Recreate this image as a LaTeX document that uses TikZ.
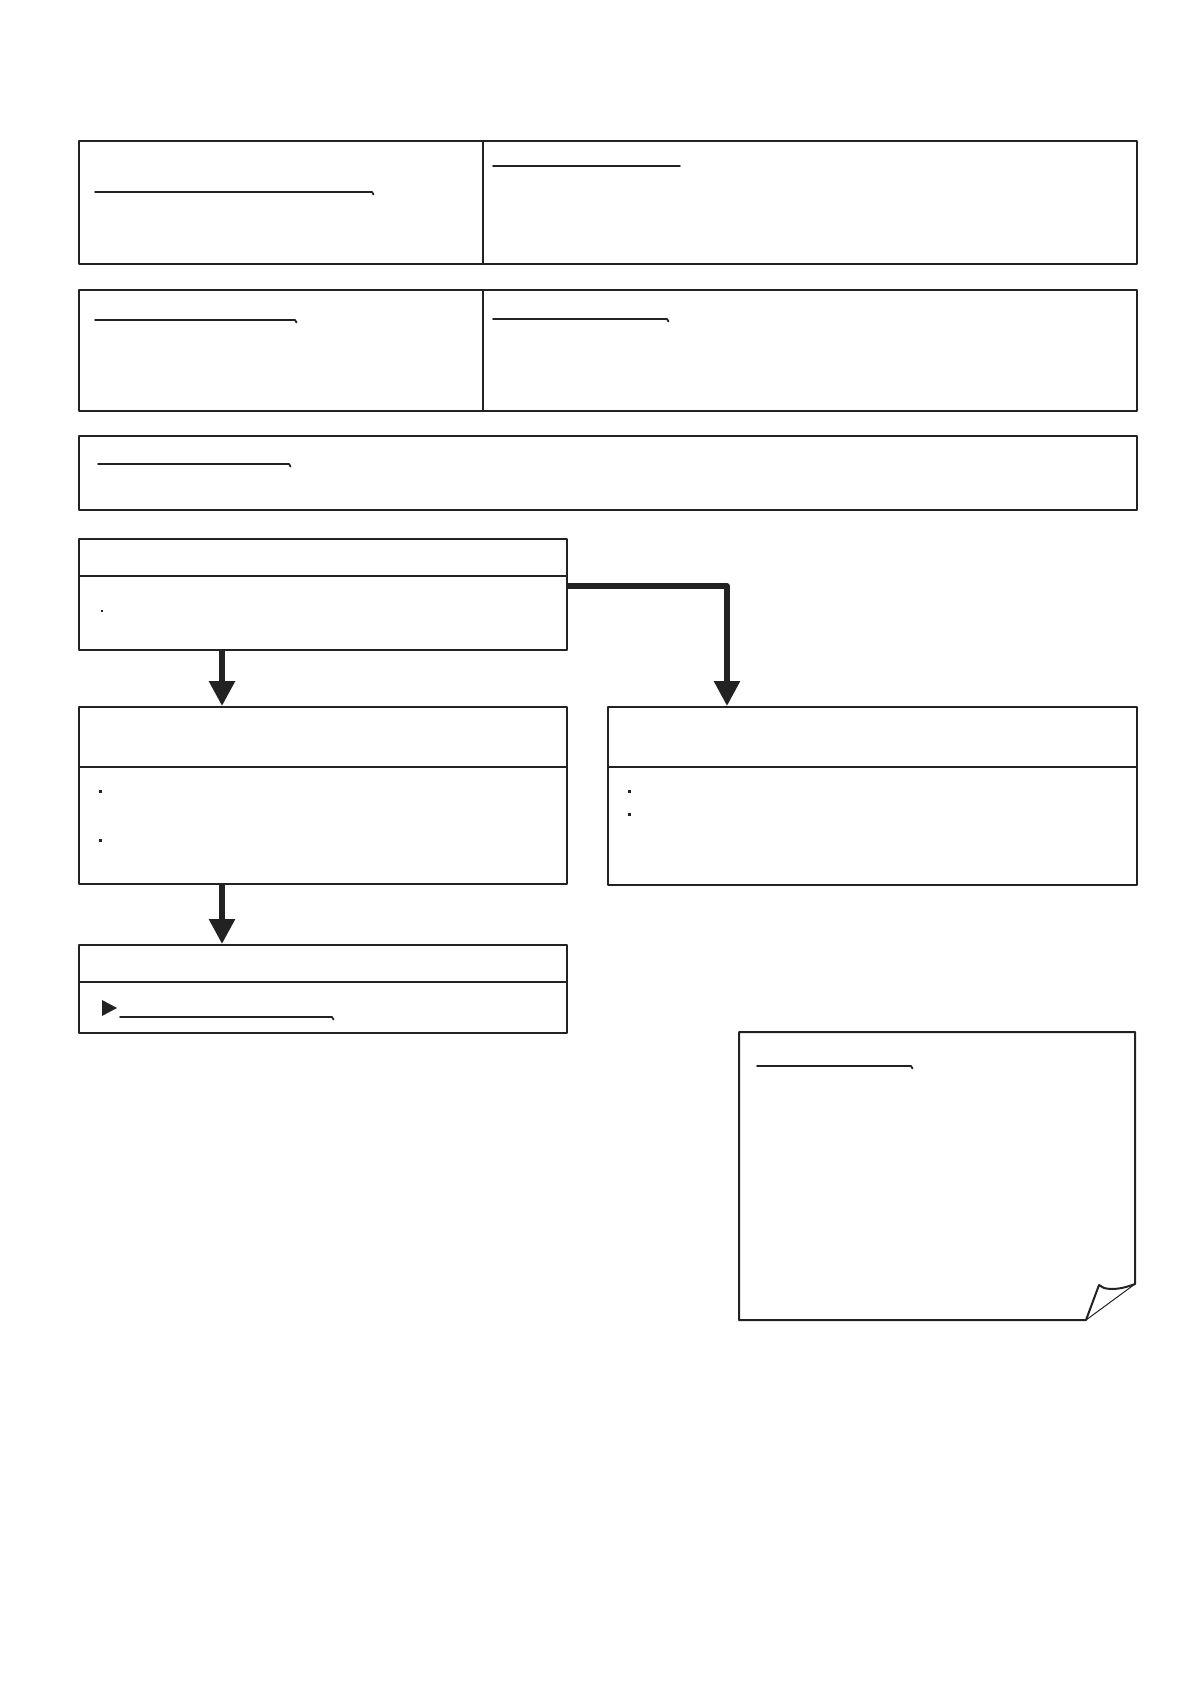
\documentclass[tikz,border=0pt]{standalone}
\usepackage{tikz}
\usetikzlibrary{arrows.meta}
\usepackage{xcolor}
\definecolor{ink}{RGB}{34,34,34}

\tikzset{
  panel/.style={draw=ink,line width=1pt,inner sep=0pt,anchor=north west},
  rule/.style={draw=ink,line width=0.6pt},
  blank/.style={draw=ink,line width=0.9pt,line cap=round},
  flow/.style={draw=ink,line width=2.9pt,line join=round,-{Triangle[length=12.5pt,width=12.5pt]}}
}

\begin{document}
\begin{tikzpicture}[x=0.5pt,y=-0.5pt,line join=round]
\useasboundingbox (0,0) rectangle (1191,1684);
% header rows
\node[panel,minimum width=529pt,minimum height=61.5pt] (head) at (78,140) {};
\draw[rule] (483,140) -- (483,263);
\draw[blank] (95,192) -- (372,192) -- ++(1.5,2.5);
\draw[blank] (493,166) -- (680,166);
\node[panel,minimum width=529pt,minimum height=60.5pt] (info) at (78,289) {};
\draw[rule] (483,289) -- (483,410);
\draw[blank] (95,320) -- (295,320) -- ++(1.5,2.5);
\draw[blank] (493,319) -- (667,319) -- ++(1.5,2.5);
\node[panel,minimum width=529pt,minimum height=37pt] (note) at (78,435) {};
\draw[blank] (98,464) -- (289,464) -- ++(1.5,2.5);
% flow boxes
\node[panel,minimum width=244pt,minimum height=55.5pt] (check) at (78,538) {};
\draw[rule] (78,576) -- (566,576);
\fill[ink] (101,610) rectangle ++(2,2);
\node[panel,minimum width=244pt,minimum height=88.5pt] (optA) at (78,706) {};
\draw[rule] (78,767) -- (566,767);
\fill[ink] (98.5,790) rectangle ++(3,3);
\fill[ink] (98.5,838.5) rectangle ++(3,3);
\node[panel,minimum width=264.5pt,minimum height=89pt] (optB) at (607,706) {};
\draw[rule] (607,767) -- (1136,767);
\fill[ink] (627.5,790) rectangle ++(3,3);
\fill[ink] (627.5,812.5) rectangle ++(3,3);
\node[panel,minimum width=244pt,minimum height=44pt] (result) at (78,944) {};
\draw[rule] (78,982) -- (566,982);
\fill[ink] (102,1000) -- (117,1008) -- (102,1016) -- cycle;
\draw[blank] (120,1017) -- (332,1017) -- ++(1.5,2.5);
% connectors
\coordinate (colL) at (222,0);
\coordinate (bend) at (727,586);
\draw[flow] (colL |- check.south) -- (colL |- optA.north);
\draw[flow] (bend -| check.east) -- (bend) -- (bend |- optB.north);
\draw[flow] (colL |- optA.south) -- (colL |- result.north);
% memo sheet
\draw[ink,line width=1pt] (739,1032) -- (1135,1032) -- (1135,1284)
  .. controls (1122,1289) and (1112,1290) .. (1104,1288) -- (1099,1285)
  -- (1086,1320) -- (739,1320) -- cycle;
\draw[ink,line width=0.5pt] (1086,1320) -- (1135,1284);
\draw[blank] (757,1066) -- (911,1066) -- ++(1.5,2.5);
\end{tikzpicture}
\end{document}
